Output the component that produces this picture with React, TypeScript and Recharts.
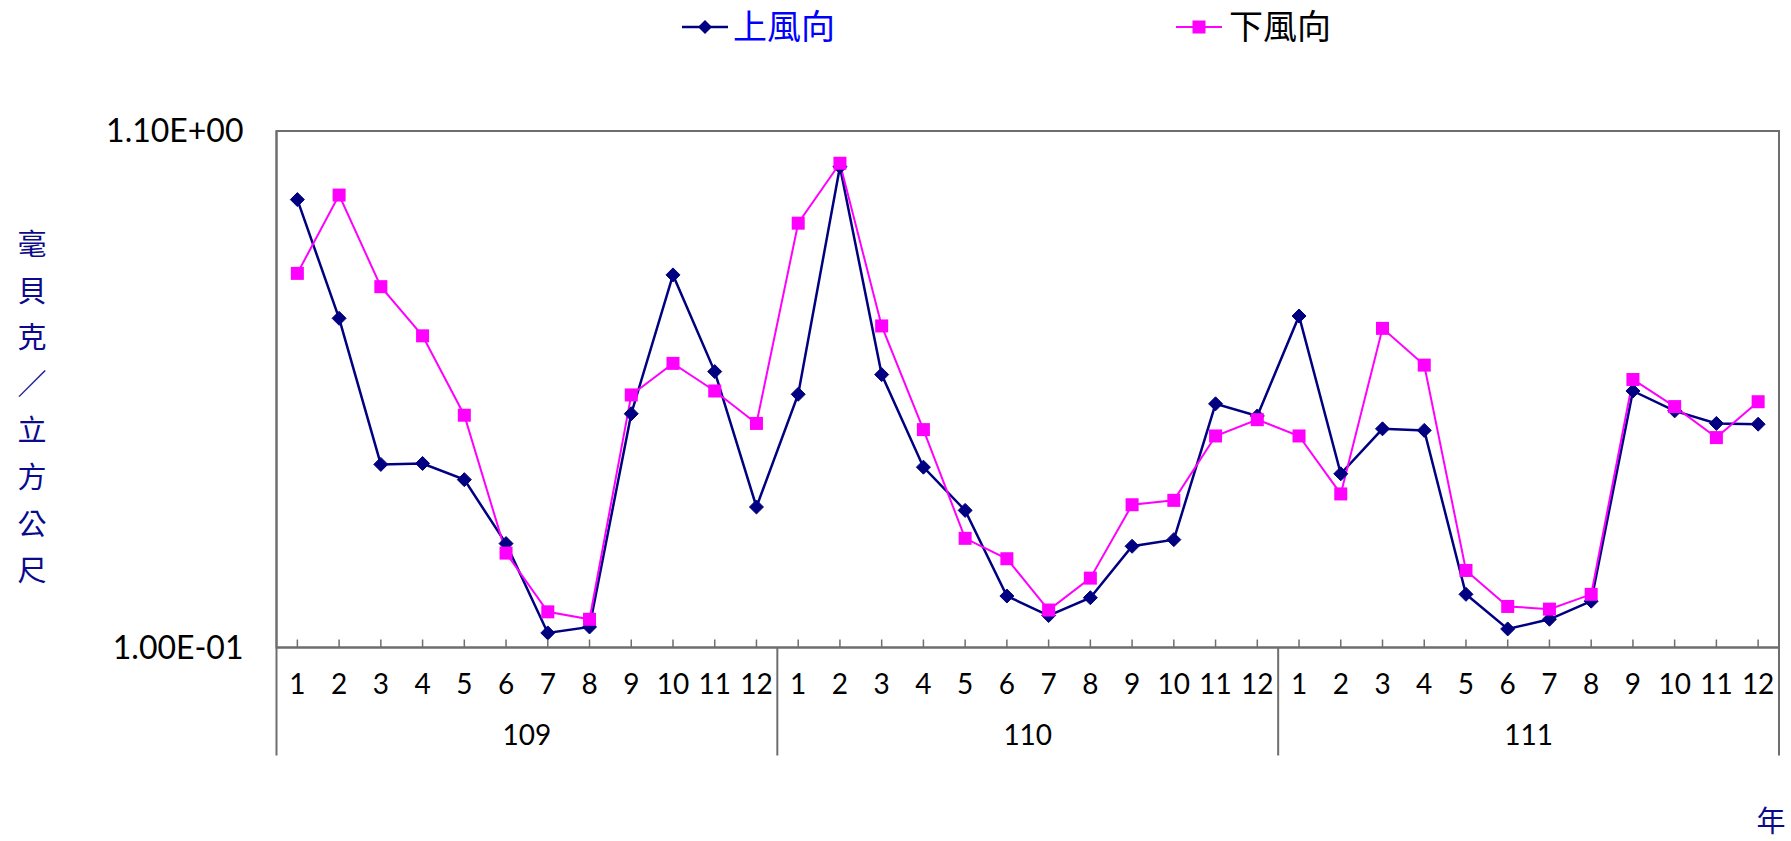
import React from 'react';
import { LineChart, Line, XAxis, YAxis, ReferenceArea } from 'recharts';

const years = ['109', '110', '111'];
const months = ['1', '2', '3', '4', '5', '6', '7', '8', '9', '10', '11', '12'];

// 上風向 (upwind), 毫貝克/立方公尺
const upwind = [
  0.8, 0.461, 0.234, 0.235, 0.218, 0.162, 0.107, 0.11, 0.296, 0.564, 0.36, 0.192,
  0.324, 0.932, 0.355, 0.231, 0.189, 0.127, 0.116, 0.126, 0.16, 0.165, 0.31, 0.293,
  0.466, 0.224, 0.276, 0.274, 0.128, 0.109, 0.114, 0.124, 0.329, 0.3, 0.283, 0.282,
];

// 下風向 (downwind)
const downwind = [
  0.568, 0.817, 0.534, 0.425, 0.294, 0.155, 0.118, 0.114, 0.323, 0.374, 0.329, 0.283,
  0.717, 0.947, 0.445, 0.275, 0.166, 0.151, 0.119, 0.138, 0.194, 0.198, 0.267, 0.288,
  0.267, 0.204, 0.44, 0.371, 0.143, 0.121, 0.1195, 0.128, 0.347, 0.306, 0.265, 0.313,
];

const yTicks = [0.1, 1.1];
const unitLabel = '毫貝克／立方公尺';
const xUnitLabel = '年';
const seriesNames = ['上風向', '下風向'];

const data = years.flatMap((y, yi) =>
  months.map((m, mi) => ({
    key: `${y}-${m}`,
    year: y,
    month: m,
    up: upwind[yi * 12 + mi],
    down: downwind[yi * 12 + mi],
  }))
);

const W = 1791;
const H = 841;
const PLOT_LEFT = 276.5;
const PLOT_RIGHT = 1779;
const PLOT_TOP = 131;
const PLOT_BOTTOM = 647.5;
const BAND = (PLOT_RIGHT - PLOT_LEFT) / data.length;

const AXIS = '#6e6e6e';
const NAVY = '#000080';
const PINK = '#FF00FF';
const NUM_FONT = 'Lato, "DejaVu Sans", sans-serif';
const CJK_FONT = '"Noto Sans CJK TC", "Noto Sans CJK SC", sans-serif';

const sci = (v: number) => {
  const e = Math.floor(Math.log10(v) + 1e-9);
  const m = v / Math.pow(10, e);
  const sign = e < 0 ? '-' : '+';
  return `${m.toFixed(2)}E${sign}${String(Math.abs(e)).padStart(2, '0')}`;
};

const Diamond = (props: any) => {
  const { cx, cy, index } = props;
  if (cx == null || cy == null) return <g key={index} />;
  const r = 7;
  return (
    <polygon
      key={index}
      points={`${cx},${cy - r} ${cx + r},${cy} ${cx},${cy + r} ${cx - r},${cy}`}
      fill={NAVY}
      stroke={NAVY}
    />
  );
};

const Square = (props: any) => {
  const { cx, cy, index } = props;
  if (cx == null || cy == null) return <g key={index} />;
  const s = 13;
  return <rect key={index} x={cx - s / 2} y={cy - s / 2} width={s} height={s} fill={PINK} />;
};

const MonthTick = (props: any) => {
  const { x, y, index } = props;
  const d = data[index];
  if (!d) return null;
  return (
    <g>
      <line x1={x} x2={x} y1={y} y2={y - 8} stroke={AXIS} strokeWidth={1.5} />
      <text x={x} y={y + 46} textAnchor="middle" fontSize={28} fontFamily={NUM_FONT} fill="#000">
        {d.month}
      </text>
      {index % 12 === 0 && (
        <line x1={x - BAND / 2} x2={x - BAND / 2} y1={y} y2={y + 108} stroke={AXIS} strokeWidth={2} />
      )}
      {index === data.length - 1 && (
        <line x1={x + BAND / 2} x2={x + BAND / 2} y1={y} y2={y + 108} stroke={AXIS} strokeWidth={2} />
      )}
      {index % 12 === 5 && (
        <text x={x + BAND / 2} y={y + 97} textAnchor="middle" fontSize={28} fontFamily={NUM_FONT} fill="#000">
          {d.year}
        </text>
      )}
    </g>
  );
};

const UnitLabel = () => (
  <g>
    {unitLabel.split('').map((ch, i) => (
      <text
        key={i}
        x={32}
        y={245 + i * 46.6 + 10}
        textAnchor="middle"
        fontSize={29}
        fontFamily={CJK_FONT}
        fill="#0a0a8c"
      >
        {ch}
      </text>
    ))}
  </g>
);

const YearUnit = () => (
  <text x={1771} y={832} textAnchor="middle" fontSize={29} fontFamily={CJK_FONT} fill="#0a0a8c">
    {xUnitLabel}
  </text>
);

const LegendBox = () => (
  <svg width={W} height={60} style={{ position: 'absolute', left: 0, top: 0, display: 'block' }}>
    <line x1={682} x2={728} y1={27} y2={27} stroke={NAVY} strokeWidth={2.5} />
    <polygon points="705,20 712,27 705,34 698,27" fill={NAVY} />
    <text x={733} y={39} fontSize={34} fontFamily={CJK_FONT} fill="#0000FF">
      {seriesNames[0]}
    </text>
    <line x1={1176} x2={1222} y1={27} y2={27} stroke={PINK} strokeWidth={2} />
    <rect x={1192.5} y={20.5} width={13} height={13} fill={PINK} />
    <text x={1229} y={39} fontSize={34} fontFamily={CJK_FONT} fill="#000">
      {seriesNames[1]}
    </text>
  </svg>
);

export default function App() {
  return (
    <div style={{ position: 'absolute', left: 0, top: 0, width: W, height: H, background: '#fff' }}>
      <LineChart
        width={W}
        height={H}
        data={data}
        margin={{ top: PLOT_TOP, right: W - PLOT_RIGHT, bottom: 0, left: 0 }}
      >
        <XAxis
          dataKey="key"
          type="category"
          scale="band"
          interval={0}
          height={H - PLOT_BOTTOM}
          tickSize={0}
          tickMargin={0}
          tickLine={false}
          axisLine={{ stroke: AXIS, strokeWidth: 2 }}
          tick={MonthTick}
          label={{ content: <YearUnit /> }}
        />
        <YAxis
          type="number"
          scale="log"
          domain={[0.1, 1.1]}
          ticks={yTicks}
          allowDataOverflow
          width={PLOT_LEFT}
          tickSize={0}
          tickMargin={33}
          tickLine={false}
          axisLine={{ stroke: AXIS, strokeWidth: 2 }}
          tickFormatter={sci}
          tick={{ fontSize: 32, fontFamily: NUM_FONT, fill: '#000' }}
          label={{ content: <UnitLabel /> }}
        />
        {/* plot-area frame */}
        <ReferenceArea
          x1={data[0].key}
          x2={data[data.length - 1].key}
          y1={yTicks[0]}
          y2={yTicks[1]}
          fill="none"
          stroke={AXIS}
          strokeWidth={2}
          ifOverflow="visible"
        />
        <Line
          dataKey="up"
          name={seriesNames[0]}
          stroke={NAVY}
          strokeWidth={2.5}
          dot={Diamond}
          activeDot={false}
          isAnimationActive={false}
        />
        <Line
          dataKey="down"
          name={seriesNames[1]}
          stroke={PINK}
          strokeWidth={2}
          dot={Square}
          activeDot={false}
          isAnimationActive={false}
        />
      </LineChart>
      <LegendBox />
    </div>
  );
}
